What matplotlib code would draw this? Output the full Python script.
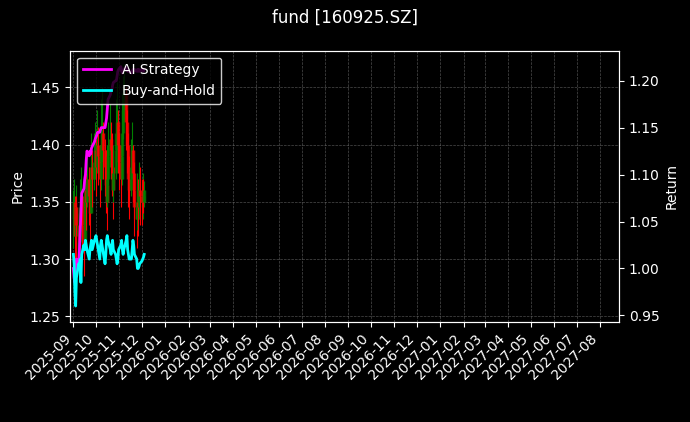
import matplotlib
matplotlib.use("Agg")
import matplotlib.pyplot as plt
import matplotlib.dates as mdates
import pandas as pd
import numpy as np

dates = pd.bdate_range("2025-09-01", "2025-12-04")
n = len(dates)
close = [1.335,1.350,1.320,1.345,1.330,1.300,1.315,1.340,1.355,1.330,
         1.310,1.345,1.360,1.350,1.370,1.355,1.340,1.365,1.380,1.370,
         1.385,1.395,1.380,1.400,1.390,1.370,1.385,1.400,1.410,1.395,
         1.380,1.365,1.350,1.370,1.390,1.405,1.395,1.380,1.360,1.375,
         1.395,1.410,1.420,1.400,1.385,1.370,1.390,1.410,1.430,1.445,
         1.420,1.400,1.385,1.370,1.360,1.380,1.395,1.375,1.360,1.345,
         1.335,1.350,1.345,1.360,1.355,1.350,1.355,1.350,1.360]
high = [1.360,1.370,1.355,1.365,1.355,1.340,1.345,1.370,1.380,1.360,
        1.350,1.370,1.385,1.375,1.395,1.380,1.370,1.390,1.410,1.395,
        1.410,1.420,1.405,1.430,1.415,1.400,1.410,1.440,1.450,1.420,
        1.405,1.395,1.380,1.400,1.420,1.435,1.420,1.410,1.390,1.400,
        1.420,1.440,1.455,1.430,1.410,1.400,1.420,1.445,1.460,1.470,
        1.450,1.430,1.410,1.400,1.390,1.405,1.420,1.400,1.385,1.375,
        1.360,1.375,1.370,1.385,1.380,1.370,1.375,1.370,1.368]
low = [1.310,1.320,1.295,1.315,1.300,1.280,1.290,1.315,1.330,1.305,
       1.285,1.315,1.335,1.325,1.345,1.330,1.315,1.340,1.355,1.345,
       1.360,1.370,1.355,1.375,1.365,1.345,1.360,1.375,1.385,1.370,
       1.355,1.340,1.325,1.345,1.365,1.380,1.370,1.355,1.335,1.350,
       1.370,1.385,1.395,1.375,1.360,1.345,1.365,1.385,1.405,1.420,
       1.395,1.375,1.360,1.345,1.335,1.355,1.370,1.350,1.335,1.320,
       1.310,1.325,1.320,1.335,1.330,1.330,1.335,1.340,1.345]
strategy = [1.000,0.990,0.985,1.005,1.010,1.005,1.020,1.040,1.060,1.080,
            1.085,1.095,1.100,1.115,1.125,1.120,1.125,1.122,1.128,1.130,
            1.135,1.138,1.140,1.142,1.145,1.145,1.148,1.150,1.150,1.150,
            1.150,1.155,1.160,1.170,1.180,1.185,1.190,1.190,1.195,1.198,
            1.200,1.200,1.205,1.210,1.212,1.215,1.210,1.208,1.210,1.212,
            1.215,1.212,1.210,1.212,1.210,1.208,1.210,1.212,1.210,1.212,
            1.210,1.212,1.210,1.212,1.210,1.212,1.211,1.210,1.212]
buyhold = [1.015,1.005,0.975,0.960,0.990,1.005,1.000,1.010,0.985,1.015,
           1.025,1.020,1.030,1.025,1.020,1.010,1.020,1.025,1.030,1.020,
           1.030,1.032,1.035,1.030,1.025,1.010,1.025,1.030,1.025,1.020,
           1.005,1.015,1.030,1.035,1.030,1.020,1.015,1.025,1.030,1.020,
           1.015,1.010,1.005,1.010,1.020,1.025,1.030,1.020,1.015,1.020,
           1.030,1.035,1.020,1.015,1.010,1.010,1.020,1.030,1.025,1.015,
           1.010,1.000,1.000,1.002,1.005,1.008,1.010,1.012,1.015]
opens = [close[0]] + close[:-1]

plt.style.use("dark_background")
fig, ax = plt.subplots(figsize=(6.9, 4.22), dpi=100)
fig.patch.set_facecolor("black")
ax.set_facecolor("black")
for d, o, c, h, l in zip(dates, opens, close, high, low):
    col = "green" if c >= o else "red"
    ax.vlines(d, l, h, color=col, linewidth=0.8)
    ax.vlines(d, min(o, c), max(o, c), color=col, linewidth=2.5, alpha=0.8)
ax.set_ylabel("Price")
ax.set_ylim(1.245, 1.482)
ax.grid(True, linestyle="--", linewidth=0.5, color="gray", alpha=0.6)
ax2 = ax.twinx()
ax2.plot(dates, strategy, color="magenta", linewidth=2, label="AI Strategy")
ax2.plot(dates, buyhold, color="cyan", linewidth=2, label="Buy-and-Hold")
ax2.set_ylabel("Return")
ax2.set_ylim(0.943, 1.232)
ax.set_xlim(pd.Timestamp("2025-08-28"), pd.Timestamp("2027-08-26"))
ax.xaxis.set_major_locator(mdates.MonthLocator())
ax.xaxis.set_major_formatter(mdates.DateFormatter("%Y-%m"))
plt.setp(ax.get_xticklabels(), rotation=45, ha="right")
leg = ax2.legend(loc="upper left", facecolor="black", edgecolor="white")
fig.suptitle("fund [160925.SZ]")
fig.subplots_adjust(left=0.102, right=0.897, top=0.88, bottom=0.237)
fig.savefig("out.png", dpi=100, facecolor="black")
